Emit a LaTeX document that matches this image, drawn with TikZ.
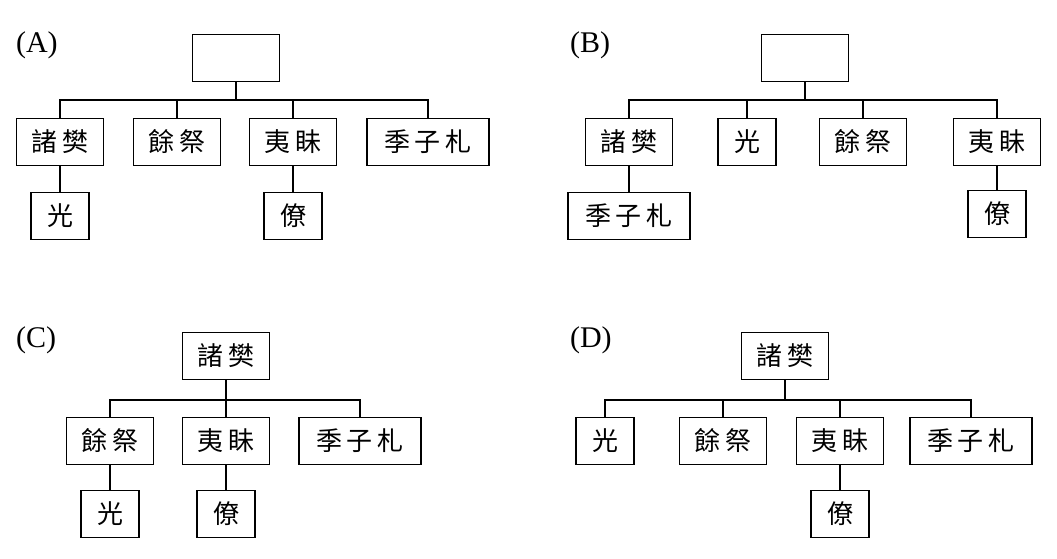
\documentclass[tikz,border=0pt]{standalone}
\usepackage{fontspec}
\setmainfont{Liberation Serif}
\newfontfamily\cjk{Noto Sans CJK TC}[Scale=1]
\begin{document}
\begin{tikzpicture}[x=1pt,y=-1pt,line width=1.4pt,
  b/.style={draw,minimum height=47pt,inner sep=0pt,font=\cjk\fontsize{26}{26}\selectfont},
  w2/.style={b,minimum width=87pt},
  w1/.style={b,minimum width=58pt},
  w3/.style={b,minimum width=122pt},
  lab/.style={font=\fontsize{30}{30}\selectfont,anchor=west}]
\useasboundingbox (0,0) rectangle (1057,558);
% A
\node[lab] (la) at (12,45) {(A)};
\node[w2] (a0) at (236,58) {};
\node[w2] (a1) at (60,142) {諸\,樊};
\node[w2] (a2) at (177,142) {餘\,祭};
\node[w2] (a3) at (293,142) {夷\,眛};
\node[w3] (a4) at (428,142) {季\,子\,札};
\node[w1] (a5) at (60,216) {光};
\node[w1] (a6) at (293,216) {僚};
\coordinate (ah) at (236,100);
\draw (a0.south) -- (ah);
\draw (a1.north) |- (a4.north |- ah) -- (a4.north);
\draw (a2.north) -- (a2.north |- ah);
\draw (a3.north) -- (a3.north |- ah);
\draw (a1) -- (a5); \draw (a3) -- (a6);
% B
\node[lab] (lb) at (566,45) {(B)};
\node[w2] (b0) at (805,58) {};
\node[w2] (b1) at (629,142) {諸\,樊};
\node[w1] (b2) at (747,142) {光};
\node[w2] (b3) at (863,142) {餘\,祭};
\node[w2] (b4) at (997,142) {夷\,眛};
\node[w3] (b5) at (629,216) {季\,子\,札};
\node[w1] (b6) at (997,214) {僚};
\coordinate (bh) at (805,100);
\draw (b0.south) -- (bh);
\draw (b1.north) |- (b4.north |- bh) -- (b4.north);
\draw (b2.north) -- (b2.north |- bh);
\draw (b3.north) -- (b3.north |- bh);
\draw (b1) -- (b5); \draw (b4) -- (b6);
% C
\node[lab] (lc) at (12,340) {(C)};
\node[w2] (c0) at (226,356) {諸\,樊};
\node[w2] (c1) at (110,441) {餘\,祭};
\node[w2] (c2) at (226,441) {夷\,眛};
\node[w3] (c3) at (360,441) {季\,子\,札};
\node[w1] (c4) at (110,514) {光};
\node[w1] (c5) at (226,514) {僚};
\coordinate (ch) at (226,400);
\draw (c0.south) -- (c2.north);
\draw (c1.north) |- (c3.north |- ch) -- (c3.north);
\draw (c1) -- (c4); \draw (c2) -- (c5);
% D
\node[lab] (ld) at (566,340) {(D)};
\node[w2] (d0) at (785,356) {諸\,樊};
\node[w1] (d1) at (605,441) {光};
\node[w2] (d2) at (723,441) {餘\,祭};
\node[w2] (d3) at (840,441) {夷\,眛};
\node[w3] (d4) at (971,441) {季\,子\,札};
\node[w1] (d5) at (840,514) {僚};
\coordinate (dh) at (785,400);
\draw (d0.south) -- (dh);
\draw (d1.north) |- (d4.north |- dh) -- (d4.north);
\draw (d2.north) -- (d2.north |- dh);
\draw (d3.north) -- (d3.north |- dh);
\draw (d3) -- (d5);
\end{tikzpicture}
\end{document}
